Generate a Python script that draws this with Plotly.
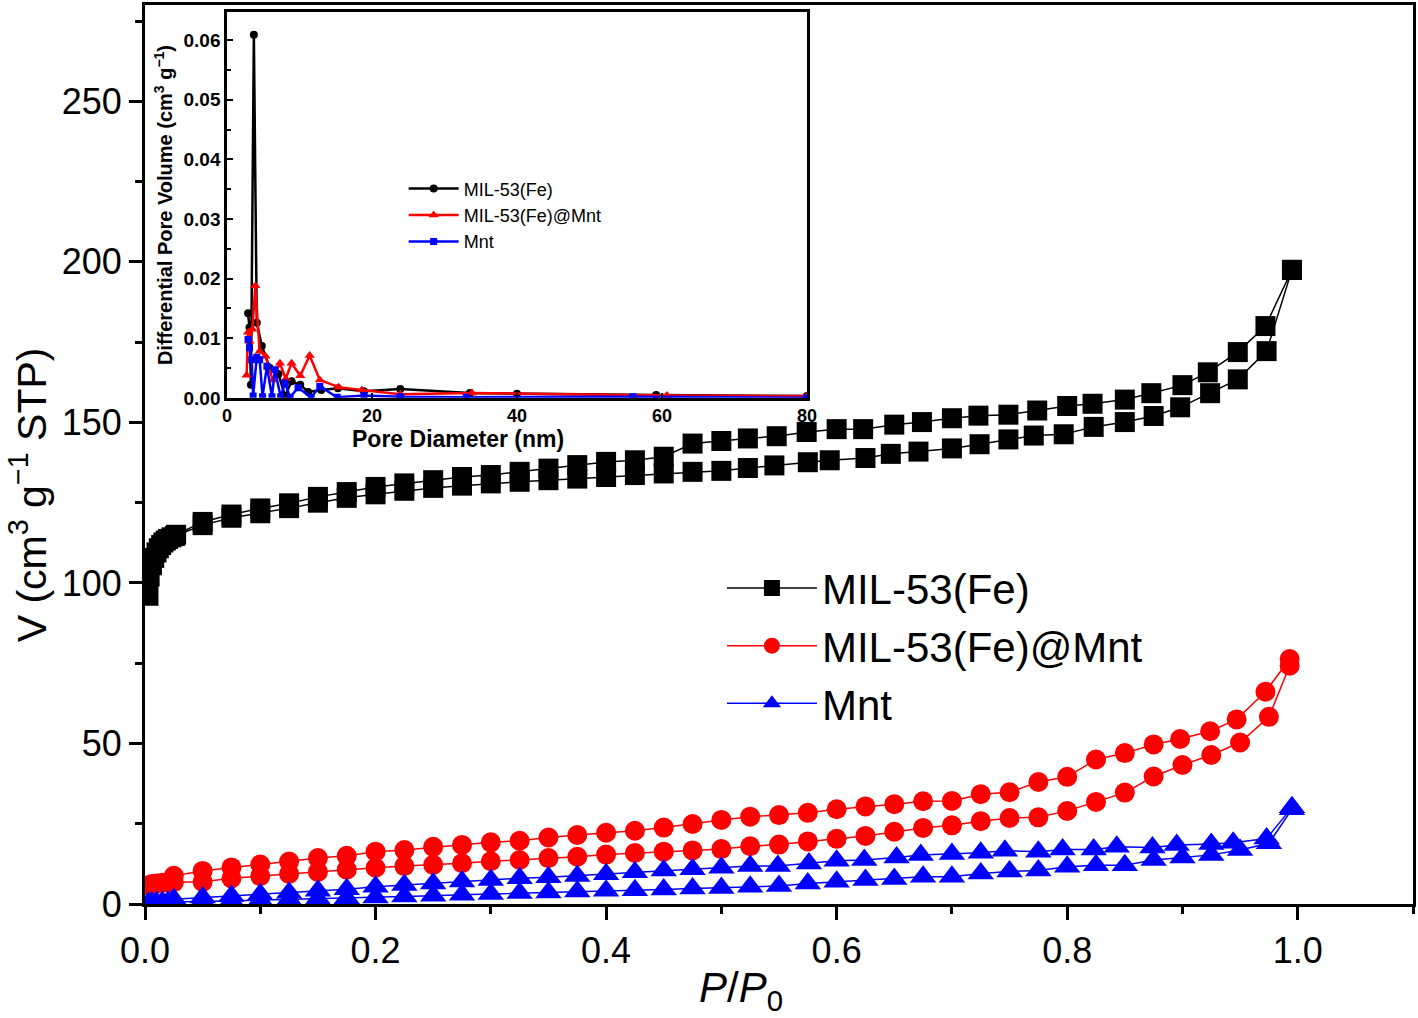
import plotly.graph_objects as go

# ---------------- main isotherm data (P/P0, V cm3/g STP) ----------------
mil_ads_p = [0.003, 0.004, 0.006, 0.008, 0.010, 0.012, 0.014, 0.016, 0.018, 0.020, 0.023, 0.026,
             0.05, 0.075, 0.10, 0.125, 0.15, 0.175, 0.20, 0.225, 0.25, 0.275, 0.30, 0.325, 0.35,
             0.375, 0.40, 0.425, 0.45, 0.475, 0.50, 0.523, 0.546, 0.575, 0.594, 0.625, 0.647,
             0.671, 0.70, 0.724, 0.749, 0.771, 0.797, 0.823, 0.85, 0.875, 0.898, 0.924, 0.948,
             0.973, 0.995]
mil_ads_v = [96.0, 102.0, 105.5, 107.8, 109.5, 110.8, 111.8, 112.6, 113.2, 113.7, 114.2, 114.6,
             118.0, 120.3, 121.7, 123.3, 125.0, 126.5, 127.6, 128.7, 129.6, 130.3, 131.0, 131.5, 132.0,
             132.5, 133.0, 133.6, 134.1, 134.6, 134.9, 135.8, 136.6, 137.6, 138.2, 138.9, 140.2,
             140.9, 141.9, 143.2, 144.7, 145.9, 146.3, 148.6, 150.1, 152.0, 154.7, 159.1, 163.4,
             172.2, 197.5]
mil_des_p = [0.995, 0.972, 0.948, 0.922, 0.900, 0.873, 0.850, 0.822, 0.800, 0.774, 0.749, 0.723,
             0.700, 0.674, 0.650, 0.623, 0.600, 0.574, 0.548, 0.523, 0.500, 0.475, 0.45, 0.425,
             0.40, 0.375, 0.35, 0.325, 0.30, 0.275, 0.25, 0.225, 0.20, 0.175, 0.15, 0.125, 0.10,
             0.075, 0.05, 0.027]
mil_des_v = [197.5, 180.0, 171.9, 165.6, 161.6, 159.1, 157.1, 155.8, 155.1, 153.7, 152.4, 152.1,
             151.3, 150.1, 149.3, 147.9, 147.9, 147.0, 145.7, 145.0, 144.2, 143.4, 139.3, 138.2,
             137.7, 136.7, 135.6, 134.6, 133.6, 133.0, 132.0, 131.0, 129.9, 128.3, 126.8, 124.8,
             123.2, 121.3, 119.0, 115.0]

mnt_c_ads_p = [0.003, 0.006, 0.010, 0.015, 0.020, 0.025,
               0.05, 0.075, 0.10, 0.125, 0.15, 0.175, 0.20, 0.225, 0.25, 0.275, 0.30, 0.325, 0.35,
               0.375, 0.40, 0.425, 0.45, 0.475, 0.50, 0.525, 0.55, 0.575, 0.60, 0.625, 0.65, 0.675,
               0.70, 0.725, 0.75, 0.775, 0.80, 0.825, 0.85, 0.875, 0.90, 0.925, 0.95, 0.975, 0.993]
mnt_c_ads_v = [5.8, 6.2, 6.4, 6.6, 6.7, 6.8,
               6.9, 8.0, 8.7, 9.4, 10.0, 10.7, 11.3, 11.8, 12.2, 12.7, 13.3, 13.7, 14.3,
               14.7, 15.4, 15.9, 16.3, 16.7, 17.1, 18.0, 18.5, 19.5, 20.3, 21.2, 22.5, 23.7,
               24.5, 25.8, 26.8, 27.0, 29.0, 31.8, 34.7, 39.7, 43.3, 46.4, 50.3, 58.3, 74.2]
mnt_c_des_p = [0.993, 0.972, 0.947, 0.924, 0.898, 0.875, 0.85, 0.825, 0.80, 0.775, 0.75, 0.725,
               0.70, 0.675, 0.65, 0.625, 0.60, 0.575, 0.55, 0.525, 0.50, 0.475, 0.45, 0.425, 0.40,
               0.375, 0.35, 0.325, 0.30, 0.275, 0.25, 0.225, 0.20, 0.175, 0.15, 0.125, 0.10, 0.075,
               0.05, 0.025]
mnt_c_des_v = [76.3, 66.1, 57.5, 53.8, 51.4, 49.7, 47.0, 45.0, 39.6, 38.0, 34.8, 34.2,
               32.1, 32.0, 31.1, 30.4, 29.5, 28.4, 27.7, 27.2, 26.2, 24.9, 23.8, 22.8, 22.2,
               21.5, 20.7, 19.7, 19.2, 18.4, 17.8, 16.8, 16.3, 15.0, 14.3, 13.2, 12.3, 11.4,
               10.3, 8.8]

mnt_ads_p = [0.003, 0.006, 0.010, 0.015, 0.020, 0.025,
             0.05, 0.075, 0.10, 0.125, 0.15, 0.175, 0.20, 0.225, 0.25, 0.275, 0.30, 0.325, 0.35,
             0.375, 0.40, 0.425, 0.45, 0.475, 0.50, 0.525, 0.55, 0.575, 0.60, 0.625, 0.65, 0.675,
             0.70, 0.725, 0.75, 0.775, 0.80, 0.825, 0.85, 0.875, 0.90, 0.925, 0.95, 0.975, 0.995]
mnt_ads_v = [0.3, 0.45, 0.55, 0.65, 0.7, 0.75,
             0.8, 1.0, 1.2, 1.4, 1.6, 1.8, 2.0, 2.3, 2.6, 2.9, 3.1, 3.4, 3.6,
             3.9, 4.1, 4.3, 4.5, 4.8, 5.0, 5.4, 5.6, 6.4, 6.9, 7.5, 7.8, 8.5,
             8.5, 9.5, 10.1, 10.4, 11.6, 12.1, 12.1, 13.7, 14.5, 15.3, 16.8, 18.9, 29.5]
mnt_des_p = [0.995, 0.973, 0.944, 0.925, 0.895, 0.874, 0.843, 0.823, 0.796, 0.775, 0.746, 0.725,
             0.70, 0.673, 0.652, 0.624, 0.60, 0.576, 0.549, 0.525, 0.50, 0.475, 0.45, 0.425, 0.40,
             0.375, 0.35, 0.325, 0.30, 0.275, 0.25, 0.225, 0.20, 0.175, 0.15, 0.125, 0.10, 0.075,
             0.05, 0.025]
mnt_des_v = [30.1, 20.4, 19.1, 18.7, 18.4, 17.6, 17.8, 17.0, 17.0, 16.3, 16.6, 16.0,
             15.6, 15.3, 14.5, 13.7, 13.5, 12.6, 11.8, 11.8, 11.3, 10.8, 10.4, 9.9, 9.3,
             8.7, 8.3, 8.0, 7.5, 7.0, 6.4, 5.9, 5.4, 4.6, 4.1, 3.5, 3.0, 2.5,
             2.0, 1.5]

# ---------------- inset pore-size distribution ----------------
psd_mil_d = [2.9, 3.1, 3.3, 3.7, 4.1, 4.8, 5.9, 7.1, 8.0, 8.9, 10.1, 11.2, 13.0, 15.3, 18.9,
             23.9, 33.5, 40.0, 59.2, 80.0]
psd_mil_v = [0.0142, 0.0118, 0.0022, 0.0609, 0.0126, 0.0087, 0.0050, 0.0040, 0.0003, 0.0028,
             0.0022, 0.0010, 0.0013, 0.0016, 0.0011, 0.0015, 0.0008, 0.0007, 0.0005, 0.0003]
psd_mc_d = [2.7, 2.9, 3.1, 3.5, 3.9, 4.5, 5.3, 6.3, 7.3, 8.1, 8.9, 10.1, 11.4, 12.8, 15.4,
            18.6, 23.9, 33.8, 60.7, 80.0]
psd_mc_v = [0.0038, 0.0110, 0.0095, 0.0115, 0.0188, 0.0078, 0.0070, 0.0030, 0.0058, 0.0032,
            0.0058, 0.0037, 0.0071, 0.0030, 0.0018, 0.0013, 0.0006, 0.0008, 0.0004, 0.0003]
psd_mnt_d = [2.9, 3.1, 3.4, 3.6, 4.1, 4.5, 4.9, 5.5, 6.2, 6.6, 7.4, 8.0, 8.7, 9.8, 11.6, 12.8,
             15.2, 18.9, 23.9, 33.0, 56.0, 80.0]
psd_mnt_v = [0.0098, 0.0084, 0.0064, 0.0003, 0.0068, 0.0064, 0.0002, 0.0053, 0.0002, 0.0047,
             0.0002, 0.0025, 0.0001, 0.0017, 0.0001, 0.0019, 0.0001, 0.0004, 0.0002, 0.0001,
             0.0002, 0.0]

names = ["MIL-53(Fe)", "MIL-53(Fe)@Mnt", "Mnt"]
colors = ["#000000", "#ff0000", "#0000ff"]

FONT = "Arial, 'Liberation Sans', sans-serif"

fig = go.Figure()

main_sets = [
    (mil_ads_p + mil_des_p, mil_ads_v + mil_des_v, "square", 20),
    (mnt_c_ads_p + mnt_c_des_p, mnt_c_ads_v + mnt_c_des_v, "circle", 20),
    (mnt_ads_p + mnt_des_p, mnt_ads_v + mnt_des_v, "triangle-up", 23),
]
for (px, py, sym, sz), nm, col in zip(main_sets, names, colors):
    fig.add_trace(go.Scatter(
        x=px, y=py, mode="lines+markers", name=nm,
        line=dict(color=col, width=1.5),
        marker=dict(symbol=sym, size=sz, color=col, line=dict(width=0)),
        xaxis="x", yaxis="y", legend="legend"))

inset_sets = [
    (psd_mil_d, psd_mil_v, "circle", 8),
    (psd_mc_d, psd_mc_v, "triangle-up", 9),
    (psd_mnt_d, psd_mnt_v, "square", 7),
]
for (dx, dy, sym, sz), nm, col in zip(inset_sets, names, colors):
    fig.add_trace(go.Scatter(
        x=dx, y=dy, mode="lines+markers", name=nm,
        line=dict(color=col, width=2.5),
        marker=dict(symbol=sym, size=sz, color=col, line=dict(width=0)),
        xaxis="x2", yaxis="y2", legend="legend2"))

axis_common = dict(showline=True, linecolor="black", mirror=True, showgrid=False,
                   zeroline=False, color="black", automargin=False)

fig.update_layout(
    template="none",
    width=1418, height=1018, autosize=False,
    margin=dict(l=145, r=5, t=5, b=114, pad=0, autoexpand=False),
    paper_bgcolor="white", plot_bgcolor="white",
    font=dict(family=FONT, color="black"),
    xaxis=dict(**axis_common, range=[0, 1.1], domain=[0, 1], linewidth=3,
               ticks="outside", ticklen=13, tickwidth=3, tick0=0, dtick=0.2,
               tickformat=".1f", tickfont=dict(size=36),
               minor=dict(ticks="outside", ticklen=7, tickwidth=3, dtick=0.1, tick0=0)),
    yaxis=dict(**axis_common, range=[0, 280], domain=[0, 1], linewidth=3,
               ticks="outside", ticklen=13, tickwidth=3, tick0=0, dtick=50,
               tickfont=dict(size=36),
               minor=dict(ticks="outside", ticklen=7, tickwidth=3, dtick=25, tick0=0)),
    xaxis2=dict(**axis_common, range=[0, 80], domain=[0.0647, 0.522], anchor="y2",
                linewidth=2.5, ticks="inside", ticklen=5, tickwidth=2, dtick=20,
                tickfont=dict(size=18, weight="bold")),
    yaxis2=dict(**axis_common, range=[0, 0.0647], domain=[0.563, 0.992], anchor="x2",
                linewidth=2.5, ticks="inside", ticklen=6, tickwidth=2, dtick=0.01,
                tickformat=".2f", tickfont=dict(size=19, weight="bold"),
                minor=dict(ticks="inside", ticklen=4, tickwidth=2, dtick=0.005),
                title=dict(text="<b>Differential Pore Volume (cm<sup>3</sup> g<sup>\u22121</sup>)</b>",
                           font=dict(size=20), standoff=6)),
    legend=dict(x=0.455, y=0.389, xanchor="left", yanchor="top",
                bgcolor="rgba(0,0,0,0)", borderwidth=0, font=dict(size=42), itemwidth=90,
                tracegroupgap=0),
    legend2=dict(x=0.204, y=0.816, xanchor="left", yanchor="top",
                 bgcolor="rgba(0,0,0,0)", borderwidth=0, font=dict(size=18), itemwidth=50),
    showlegend=True,
    annotations=[
        dict(text="V (cm<sup>3</sup> g<sup>\u22121</sup> STP)", xref="paper", yref="paper",
             x=-0.092, y=0.455, xanchor="center", yanchor="middle", textangle=-90,
             showarrow=False, font=dict(size=41)),
        dict(text="<i>P</i>/<i>P</i><sub>0</sub>", xref="paper", yref="paper",
             x=0.47, y=-0.064, xanchor="center", yanchor="top",
             showarrow=False, font=dict(size=42)),
        dict(text="<b>Pore Diameter (nm)</b>", xref="paper", yref="paper",
             x=0.247, y=0.534, xanchor="center", yanchor="top",
             showarrow=False, font=dict(size=23)),
    ],
)

post = ("document.body.style.margin='0px';"
        "document.documentElement.style.overflow='hidden';"
        "document.body.style.overflow='hidden';")

fig.write_html("out.html", config={"displayModeBar": False, "responsive": False},
               post_script=post)
